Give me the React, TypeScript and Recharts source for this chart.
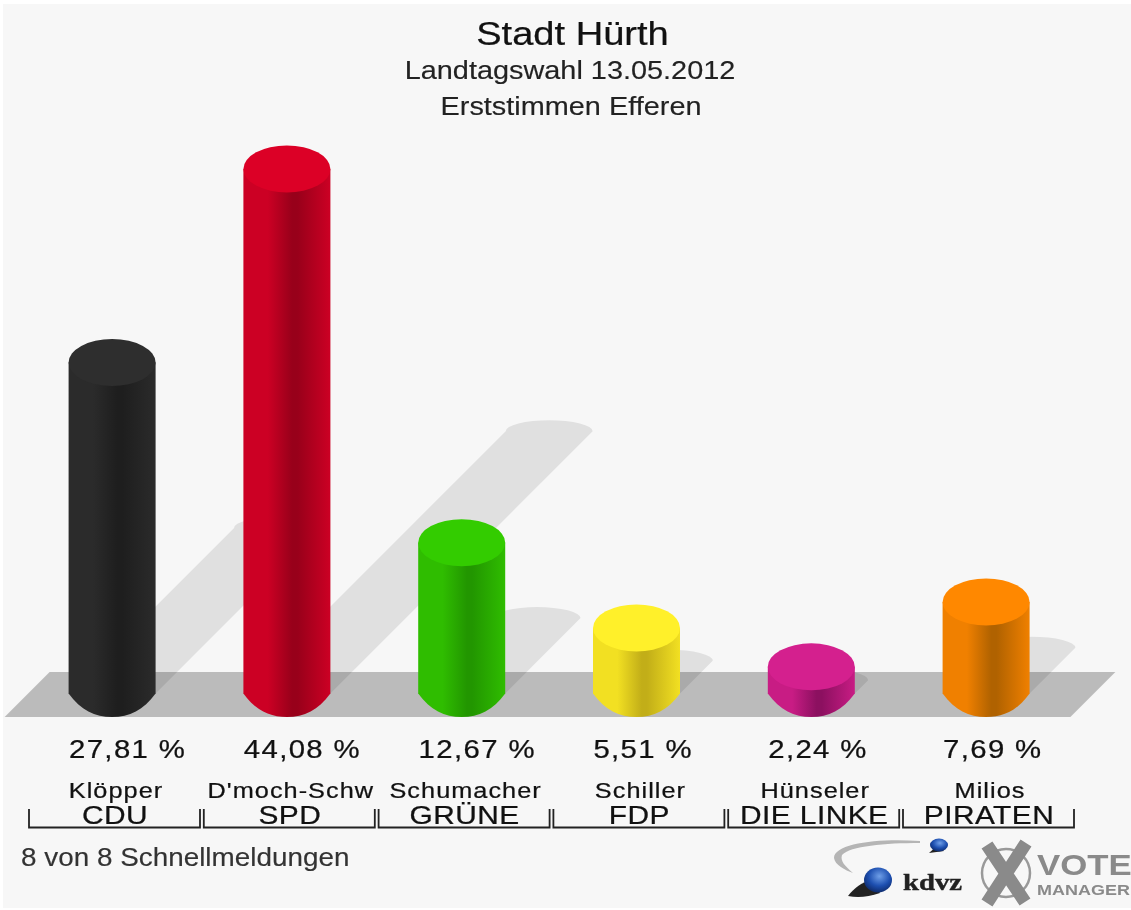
import { BarChart, Bar, XAxis, YAxis, ReferenceArea } from 'recharts'

const parties = ['CDU', 'SPD', 'GRÜNE', 'FDP', 'DIE LINKE', 'PIRATEN']
const candidates = ['Klöpper', "D'moch-Schw", 'Schumacher', 'Schiller', 'Hünseler', 'Milios']
const values = [27.81, 44.08, 12.67, 5.51, 2.24, 7.69]

// top cap, body edge, body dark stripe
const capColors = ['#2e2e2e', '#dc0026', '#33cc00', '#fff02a', '#d4208e', '#ff8800']
const edgeColors = ['#2b2b2b', '#cc0024', '#2fbd00', '#f2e022', '#c81c84', '#f08000']
const darkColors = ['#1e1e1e', '#98001a', '#229600', '#c2ae18', '#8c1060', '#b06200']

const data = parties.map((party, i) => ({ party, value: values[i] }))

const FONT = '"Liberation Sans", Arial, sans-serif'
const RY = 23.5

const formatPercent = (v: number) => v.toFixed(2).replace('.', ',') + ' %'

// the original text is stretched sideways, so squeeze it through a transform
function Wide(props: any) {
  const { x, y, sx = 1.12, fill = '#111', heavy = 0.25, children, ...rest } = props
  return (
    <text
      transform={`translate(${x} ${y}) scale(${sx} 1)`}
      fontFamily={FONT}
      fill={fill}
      stroke={fill}
      strokeWidth={heavy}
      {...rest}
    >
      {children}
    </text>
  )
}

function Floor(props: any) {
  const { x, y, width, height } = props
  const pts = [
    [x - 20, y + height],
    [x + 25, y],
    [x + width + 42, y],
    [x + width - 3, y + height],
  ]
  return <polygon points={pts.map((p) => p.join(',')).join(' ')} fill='#bbbbbb' />
}

function Shadow(props: any) {
  const { x, y, width, height } = props
  const rx = width / 2
  const d = height / 2
  const base = y + height
  return (
    <path
      d={`M${x} ${base} L${x + d} ${base - d} A${rx} 11 0 0 1 ${x + width + d} ${base - d} L${x + width} ${base} Z`}
      fill='#000'
      fillOpacity={0.09}
    />
  )
}

function Cylinder(props: any) {
  const { x, y, width, height, index } = props
  const rx = width / 2
  const base = y + height
  const right = x + width
  const bottom =
    `C${x + width * 0.14} ${base + RY * 0.72} ${x + width * 0.3} ${base + RY} ${x + rx} ${base + RY} ` +
    `C${right - width * 0.3} ${base + RY} ${right - width * 0.14} ${base + RY * 0.72} ${right} ${base}`
  return (
    <g>
      <path d={`M${x} ${y} L${x} ${base} ${bottom} L${right} ${y} Z`} fill={`url(#body${index})`} />
      <ellipse cx={x + rx} cy={y} rx={rx} ry={RY} fill={capColors[index]} />
    </g>
  )
}

function PartyTick(props: any) {
  const { x, payload } = props
  const i = payload.index
  const left = x - 83
  const right = x + 88
  return (
    <g>
      <Wide x={x - 43} y={758} sx={1.15} fontSize={25.5} letterSpacing={1.2}>
        {formatPercent(values[i])}
      </Wide>
      <Wide x={x + 4} y={798} sx={1.15} fontSize={22} letterSpacing={0.9} textAnchor='middle'>
        {candidates[i]}
      </Wide>
      <Wide x={x + 3} y={824} sx={1.15} fontSize={26} letterSpacing={0.4} textAnchor='middle'>
        {parties[i]}
      </Wide>
      <path d={`M${left} 809 V827.5 H${right} V809`} fill='none' stroke='#222' strokeWidth={1.8} />
    </g>
  )
}

function Logo() {
  return (
    <g>
      <defs>
        <radialGradient id='sphere' cx='0.55' cy='0.35' r='0.7'>
          <stop offset='0%' stopColor='#6f9fe8' />
          <stop offset='55%' stopColor='#1d4fb0' />
          <stop offset='100%' stopColor='#0c2560' />
        </radialGradient>
      </defs>
      <path d='M920 841 C880 838 834 843 834 858 C835 865 845 870 853 873 C845 866 840 861 842 855 C850 846 885 843 920 843 Z' fill='#b5b5b5' />
      <path d='M848 896 C854 888 862 882 872 880 L880 893 C868 897 858 898 848 896 Z' fill='#222' />
      <ellipse cx={878} cy={880} rx={14} ry={12.5} fill='url(#sphere)' />
      <path d='M929 853 L938 845 L944 851 Z' fill='#222' />
      <ellipse cx={939} cy={845} rx={9} ry={6.5} fill='url(#sphere)' />
      <Wide x={903} y={890} sx={1.25} fontSize={23} fill='#222' heavy={0.4} fontFamily='"Liberation Serif", serif' fontWeight={700}>
        kdvz
      </Wide>
      <circle cx={1006} cy={873} r={24} fill='none' stroke='#999' strokeWidth={2.5} />
      <path d='M987 845 L1025 902 M1026 843 L987 903' stroke='#8a8a8a' strokeWidth={13} />
      <Wide x={1037} y={874.5} sx={1.16} fontSize={30} fontWeight={700} fill='#8a8a8a' heavy={0}>
        VOTE
      </Wide>
      <Wide x={1037} y={895} sx={1.24} fontSize={14.5} fontWeight={700} fill='#8a8a8a' heavy={0}>
        MANAGER
      </Wide>
    </g>
  )
}

export default function App() {
  return (
    <div style={{ position: 'absolute', left: 0, top: 0, width: 1131, height: 910, background: '#ffffff', overflow: 'hidden' }}>
      <div style={{ position: 'absolute', left: 3, top: 4, right: 0, bottom: 2, background: '#f7f7f7' }} />
      <div style={{ position: 'absolute', left: 0, top: 0, filter: 'blur(0.7px)' }}>
        <BarChart
          width={1131}
          height={910}
          data={data}
          barSize={87}
          barGap={-87}
          margin={{ top: 98.5, right: 57.6, bottom: 16.5, left: 24.6 }}
        >
          <defs>
            {parties.map((p, i) => (
              <linearGradient key={p} id={`body${i}`} x1='0' y1='0' x2='1' y2='0'>
                <stop offset='0%' stopColor={edgeColors[i]} />
                <stop offset='28%' stopColor={edgeColors[i]} />
                <stop offset='56%' stopColor={darkColors[i]} />
                <stop offset='62%' stopColor={darkColors[i]} />
                <stop offset='100%' stopColor={edgeColors[i]} />
              </linearGradient>
            ))}
          </defs>
          <Wide x={572.5} y={45} sx={1.12} fontSize={34} textAnchor='middle'>
            Stadt Hürth
          </Wide>
          <Wide x={570} y={79} sx={1.09} fontSize={26.5} textAnchor='middle' fill='#222' heavy={0.15}>
            Landtagswahl 13.05.2012
          </Wide>
          <Wide x={571} y={114.5} sx={1.09} fontSize={26.5} textAnchor='middle' fill='#222' heavy={0.15}>
            Erststimmen Efferen
          </Wide>
          <Wide x={21} y={866} sx={1.115} fontSize={25} fill='#333' heavy={0.15}>
            8 von 8 Schnellmeldungen
          </Wide>
          <Logo />
          <XAxis
            dataKey='party'
            interval={0}
            height={200}
            axisLine={false}
            tickLine={false}
            tick={(props: any) => <PartyTick {...props} />}
          />
          <YAxis hide domain={[0, 50]} />
          <ReferenceArea y1={-1.97} y2={1.8} ifOverflow='visible' shape={(props: any) => <Floor {...props} />} />
          <Bar dataKey='value' isAnimationActive={false} shape={(props: any) => <Shadow {...props} />} />
          <Bar dataKey='value' isAnimationActive={false} shape={(props: any) => <Cylinder {...props} />} />
        </BarChart>
      </div>
    </div>
  )
}
